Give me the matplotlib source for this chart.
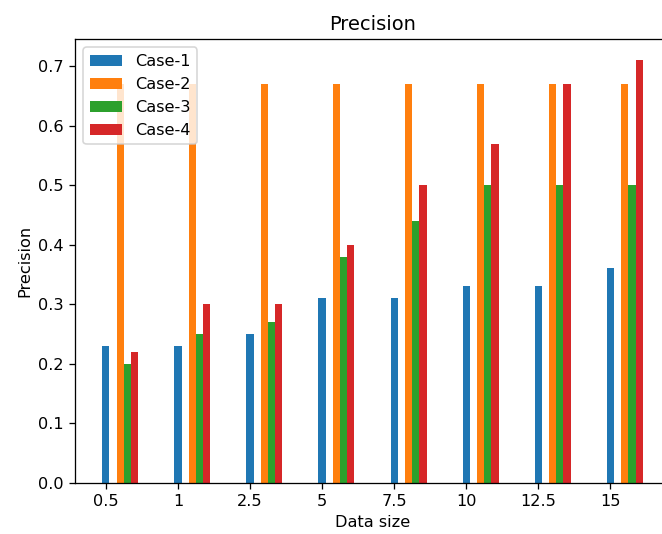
import matplotlib
matplotlib.use('Agg')
import matplotlib.pyplot as plt
import numpy as np

data_sizes = ['0.5', '1', '2.5', '5', '7.5', '10', '12.5', '15']
case_1 = [0.23, 0.23, 0.25, 0.31, 0.31, 0.33, 0.33, 0.36]
case_2 = [0.67, 0.67, 0.67, 0.67, 0.67, 0.67, 0.67, 0.67]
case_3 = [0.20, 0.25, 0.27, 0.38, 0.44, 0.50, 0.50, 0.50]
case_4 = [0.22, 0.30, 0.30, 0.40, 0.50, 0.57, 0.67, 0.71]

x = np.arange(len(data_sizes))
w = 0.1

dpi = 116
fig = plt.figure(figsize=(662 / dpi, 534 / dpi), dpi=dpi)
# axes run slightly past the right edge of the canvas
ax = fig.add_axes([0.1137, 0.0964, 0.898, 0.830])

ax.bar(x, case_1, w, label='Case-1')
ax.bar(x + 2 * w, case_2, w, label='Case-2')
ax.bar(x + 3 * w, case_3, w, label='Case-3')
ax.bar(x + 4 * w, case_4, w, label='Case-4')

ax.set_xticks(x)
ax.set_xticklabels(data_sizes)
ax.set_xlabel('Data size')
ax.set_ylabel('Precision')
ax.set_title('Precision')
ax.legend(loc='upper left')

plt.savefig('out.png', dpi=dpi)
